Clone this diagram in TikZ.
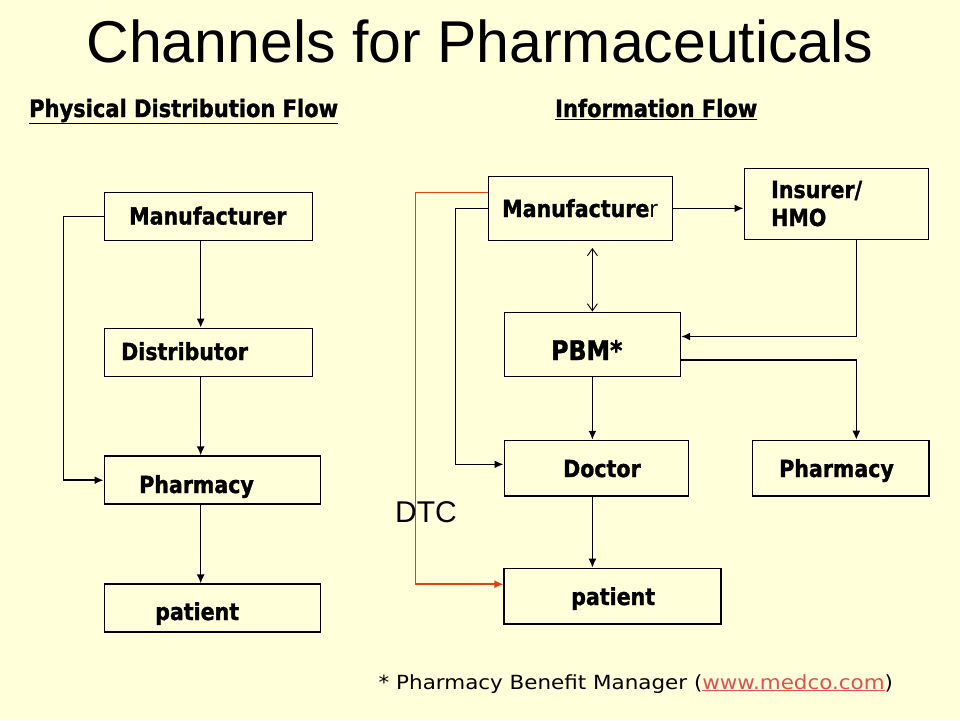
\documentclass[tikz,border=0pt]{standalone}
\usepackage{fontspec}
\setmainfont{DejaVu Sans}
\newfontfamily\arialf{Liberation Sans}
\newfontfamily\lblf[FakeStretch=0.875,BoldFeatures={FakeBold=1.3}]{DejaVu Sans}
\newfontfamily\footf[FakeStretch=1.1]{DejaVu Sans}
\usetikzlibrary{arrows.meta,calc}
\definecolor{bg}{HTML}{FFFFD9}
\definecolor{dtcred}{HTML}{E0401A}
\definecolor{linkred}{HTML}{E05050}
\tikzset{
  box/.style={draw=black, line width=1.6pt, rectangle, inner sep=0pt},
  lbl/.style={inner sep=0pt, anchor=base west, font=\lblf\bfseries\fontsize{23.5}{26}\selectfont},
  conn/.style={line width=1.5pt, -{Latex[length=9pt,width=8pt]}},
  dtcconn/.style={line width=1.5pt, draw=dtcred, -{Latex[length=9pt,width=8pt]}, color=dtcred},
  dbl/.style={line width=0.9pt, {Straight Barb[length=7pt,width=10pt,line width=0.9pt]}-{Straight Barb[length=7pt,width=10pt,line width=0.9pt]}},
  heading/.style={inner sep=0pt, anchor=base west, font=\lblf\bfseries\fontsize{24}{28}\selectfont}
}
\begin{document}
\begin{tikzpicture}[x=1pt,y=-1pt]
\fill[bg] (0,0) rectangle (960,720);
\useasboundingbox (0,0) rectangle (960,720);

% title and headings
\node[inner sep=0pt, anchor=base, font=\arialf\fontsize{59}{64}\selectfont] (title) at (480,62) {Channels for Pharmaceuticals};
\node[heading] (h1) at (29,117) {\underline{Physical Distribution Flow}};
\node[heading] (h2) at (555,117) {\underline{Information Flow}};

% left column boxes
\node[box, minimum width=208pt, minimum height=48pt] (lman) at (208.3,216.5) {};
\node[box, minimum width=208pt, minimum height=48pt] (ldis) at (208.3,352.5) {};
\node[box, minimum width=216pt, minimum height=48pt] (lph) at (212.3,480.2) {};
\node[box, minimum width=216pt, minimum height=48pt] (lpat) at (212.3,608.2) {};
\node[lbl] (lmanT) at (129,224.5) {Manufacturer};
\node[lbl] (ldisT) at (121,360) {Distributor};
\node[lbl] (lphT) at (139,493) {Pharmacy};
\node[lbl] (lpatT) at (155,620) {patient};

% left connectors
\draw[conn] (lman.south -| 200.7,0) -- (ldis.north -| 200.7,0);
\draw[conn] (ldis.south -| 200.7,0) -- (lph.north -| 200.7,0);
\draw[conn] (lph.south -| 200.7,0) -- (lpat.north -| 200.7,0);
\draw[conn] (lman.west) -- ++(-40,0) |- (lph.west);

% right column boxes
\node[box, minimum width=184pt, minimum height=64pt] (rman) at (580.5,208.3) {};
\node[box, minimum width=184pt, minimum height=71pt] (ins) at (836.3,203.8) {};
\node[box, minimum width=176pt, minimum height=64pt] (pbm) at (592.4,344.3) {};
\node[box, minimum width=184pt, minimum height=55.5pt] (doc) at (596.3,468.3) {};
\node[box, minimum width=176.5pt, minimum height=55.5pt] (rph) at (840.6,468.2) {};
\node[box, minimum width=216.5pt, minimum height=55.5pt] (rpat) at (612.5,596.2) {};

\node[lbl] (rmanT) at (502,217) {Manufacture\mdseries r};
\node[lbl] (insT1) at (771,198) {Insurer/};
\node[lbl] (insT2) at (771,226) {HMO};
\node[lbl, font=\lblf\bfseries\fontsize{27}{30}\selectfont] (pbmT) at (551,360) {PBM*};
\node[lbl] (docT) at (563,477) {Doctor};
\node[lbl] (rphT) at (779,477) {Pharmacy};
\node[lbl] (rpatT) at (571,605) {patient};

% right connectors
\coordinate (dblTop) at (592.4,248);
\draw[dbl] (dblTop) -- (pbm.north);
\draw[conn] (rman.east) -- (ins.west |- rman.east);
\draw[conn] (ins.south -| 856.3,0) |- (pbm.east |- 0,336.5);
\draw[conn] (pbm.east |- 0,360) -| (rph.north -| 856.3,0);
\draw[conn] (pbm.south) -- (doc.north -| pbm.south);
\draw[conn] (doc.south -| 592.4,0) -- (rpat.north -| 592.4,0);
\draw[conn] (rman.west) -- ++(-32,0) |- ($(doc.west)+(0,-4)$);
\draw[dtcconn] ($(rman.west)+(0,-16)$) -- ++(-72,0) |- ($(rpat.west)+(0,-12)$);

\node[inner sep=0pt, anchor=base west, font=\arialf\fontsize{30}{33}\selectfont] (dtc) at (395,522) {DTC};

% footnote
\node[inner sep=0pt, anchor=base west, font=\footf\fontsize{19.5}{23}\selectfont] (foot) at (378.5,689) {* Pharmacy Benefit Manager (\textcolor{linkred}{\underline{www.medco.com}})};
\end{tikzpicture}
\end{document}
